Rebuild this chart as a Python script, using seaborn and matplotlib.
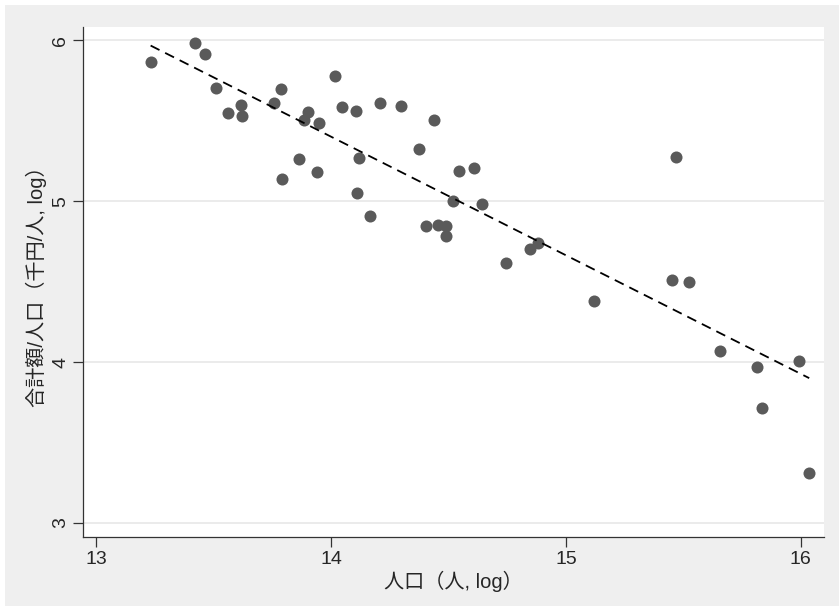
import seaborn as sns
import pandas as pd
import matplotlib.pyplot as plt
from matplotlib.patches import Rectangle

# log population vs log total amount per person
log_pop = [13.231, 13.420, 13.463, 13.508, 13.560, 13.616, 13.619, 13.757, 13.787,
           13.789, 13.863, 13.883, 13.900, 13.940, 13.948, 14.016, 14.047, 14.105,
           14.111, 14.119, 14.165, 14.210, 14.297, 14.375, 14.437, 14.546, 14.610,
           14.517, 14.641, 14.403, 14.455, 14.487, 14.487, 14.743, 14.848, 14.881,
           15.468, 15.450, 15.523, 15.119, 15.658, 15.814, 15.837, 15.993, 16.036]
log_amount = [5.865, 5.981, 5.913, 5.704, 5.550, 5.596, 5.528, 5.612, 5.696,
              5.140, 5.263, 5.505, 5.555, 5.180, 5.488, 5.776, 5.584, 5.563,
              5.053, 5.267, 4.909, 5.612, 5.592, 5.323, 5.507, 5.190, 5.205,
              5.002, 4.983, 4.847, 4.851, 4.847, 4.786, 4.617, 4.704, 4.743,
              5.277, 4.509, 4.497, 4.381, 4.070, 3.969, 3.712, 4.010, 3.310]
x_ticks = [13, 14, 15, 16]
y_ticks = [3, 4, 5, 6]

df = pd.DataFrame({'pop': log_pop, 'amount': log_amount})

sns.set_style('white')
plt.rcParams['font.family'] = ['Liberation Sans', 'Noto Sans CJK JP']

fig = plt.figure(figsize=(8.39, 6.06), dpi=100, facecolor='white')
fig.patches.append(Rectangle((5 / 839, 0), 1, 1 - 5 / 606, transform=fig.transFigure,
                             facecolor='#efefef', edgecolor='none', zorder=-1))
ax = fig.add_axes([83 / 839, 69 / 606, 741 / 839, 510 / 606])
ax.set_facecolor('white')

sns.regplot(data=df, x='pop', y='amount', ax=ax, ci=None,
            scatter_kws={'s': 75, 'color': '#5a5a5a', 'alpha': 1, 'linewidths': 0},
            line_kws={'color': 'black', 'linestyle': (0, (5.5, 3.5)), 'linewidth': 1.3})

ax.set_xlim(12.943, 16.099)
ax.set_ylim(2.913, 6.083)
ax.set_xticks(x_ticks)
ax.set_yticks(y_ticks)
ax.set_yticklabels([str(v) for v in y_ticks], rotation=90, va='center')
ax.tick_params(axis='both', direction='out', length=7, width=0.9, color='#333333',
               labelsize=14, pad=3, bottom=True, left=True)
for v in y_ticks:
    ax.axhline(v, color='#e6e6e6', linewidth=1.1, zorder=0)
for side in ['top', 'right']:
    ax.spines[side].set_visible(False)
for side in ['left', 'bottom']:
    ax.spines[side].set_color('#333333')
    ax.spines[side].set_linewidth(0.9)

ax.set_xlabel('人口（人, log）', fontsize=14.5, labelpad=2)
ax.set_ylabel('合計額/人口（千円/人, log）', fontsize=14.5, labelpad=4)

plt.savefig('out.png', dpi=100, facecolor=fig.get_facecolor())
